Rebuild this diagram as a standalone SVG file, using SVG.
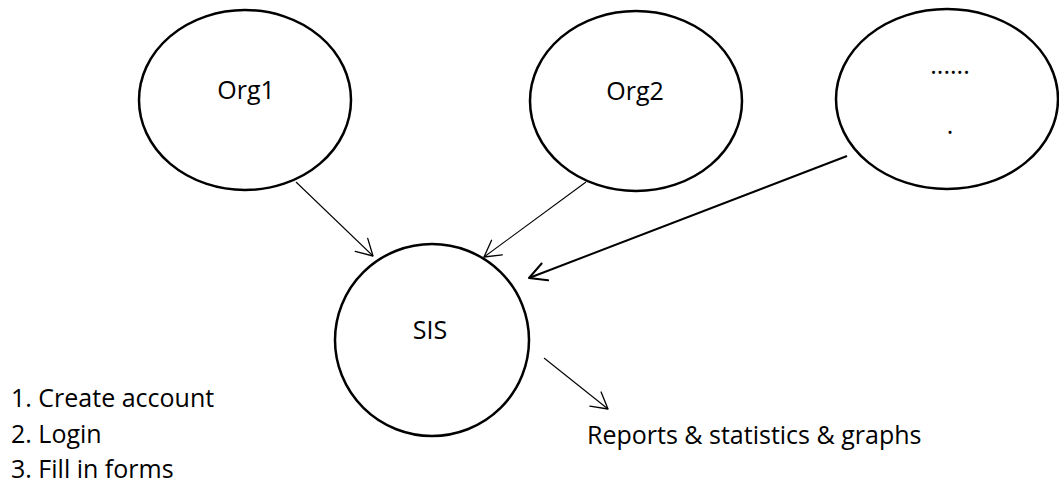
<svg xmlns="http://www.w3.org/2000/svg" width="1059" height="487" viewBox="0 0 1059 487">
<style>
.node{fill:#fff;stroke:#000;stroke-width:2.5}
.lbl{font-family:"Open Sans","Liberation Sans",sans-serif;font-size:25px;fill:#000}
.mid{text-anchor:middle}
.conn{fill:none;stroke:#000}
.thin{stroke-width:1.1}
.thick{stroke-width:2}
</style>
<defs>
<marker id="ah" markerUnits="userSpaceOnUse" markerWidth="40" markerHeight="40" refX="0" refY="0" viewBox="-20 -20 40 40" orient="auto" overflow="visible">
<path d="M-16,-9 L0,0 L-16,9" fill="none" stroke="#000" stroke-width="1.3" stroke-linejoin="round" stroke-linecap="round"/>
</marker>
<marker id="ahThick" markerUnits="userSpaceOnUse" markerWidth="40" markerHeight="40" refX="0" refY="0" viewBox="-20 -20 40 40" orient="auto" overflow="visible">
<path d="M-17,-9 L0,0 L-17,9" fill="none" stroke="#000" stroke-width="2" stroke-linejoin="round" stroke-linecap="round"/>
</marker>
</defs>
<rect width="1059" height="487" fill="#fff"/>
<g id="connectors">
<line class="conn thin" x1="296" y1="182" x2="373" y2="256" marker-end="url(#ah)"/>
<line class="conn thin" x1="586" y1="182" x2="484" y2="257" marker-end="url(#ah)"/>
<line class="conn thick" x1="847" y1="156" x2="529" y2="278" marker-end="url(#ahThick)"/>
<line class="conn thin" x1="544" y1="358" x2="608" y2="409" marker-end="url(#ah)"/>
</g>
<g id="org1">
<ellipse class="node" cx="245" cy="100" rx="106" ry="90"/>
<text class="lbl mid" x="246" y="99">Org1</text>
</g>
<g id="org2">
<ellipse class="node" cx="636" cy="101" rx="106" ry="90"/>
<text class="lbl mid" x="635" y="100">Org2</text>
</g>
<g id="more">
<ellipse class="node" cx="947" cy="99" rx="111" ry="90"/>
<text class="lbl mid" x="950" y="74">......</text>
<text class="lbl mid" x="950" y="134">.</text>
</g>
<g id="sis">
<ellipse class="node" cx="432" cy="340" rx="97" ry="96"/>
<text class="lbl mid" x="430" y="339">SIS</text>
</g>
<g id="steps">
<text class="lbl" x="11" y="407">1. Create account</text>
<text class="lbl" x="11" y="443">2. Login</text>
<text class="lbl" x="11" y="478">3. Fill in forms</text>
</g>
<g id="reports">
<text class="lbl" x="587" y="444">Reports &amp; statistics &amp; graphs</text>
</g>
</svg>
